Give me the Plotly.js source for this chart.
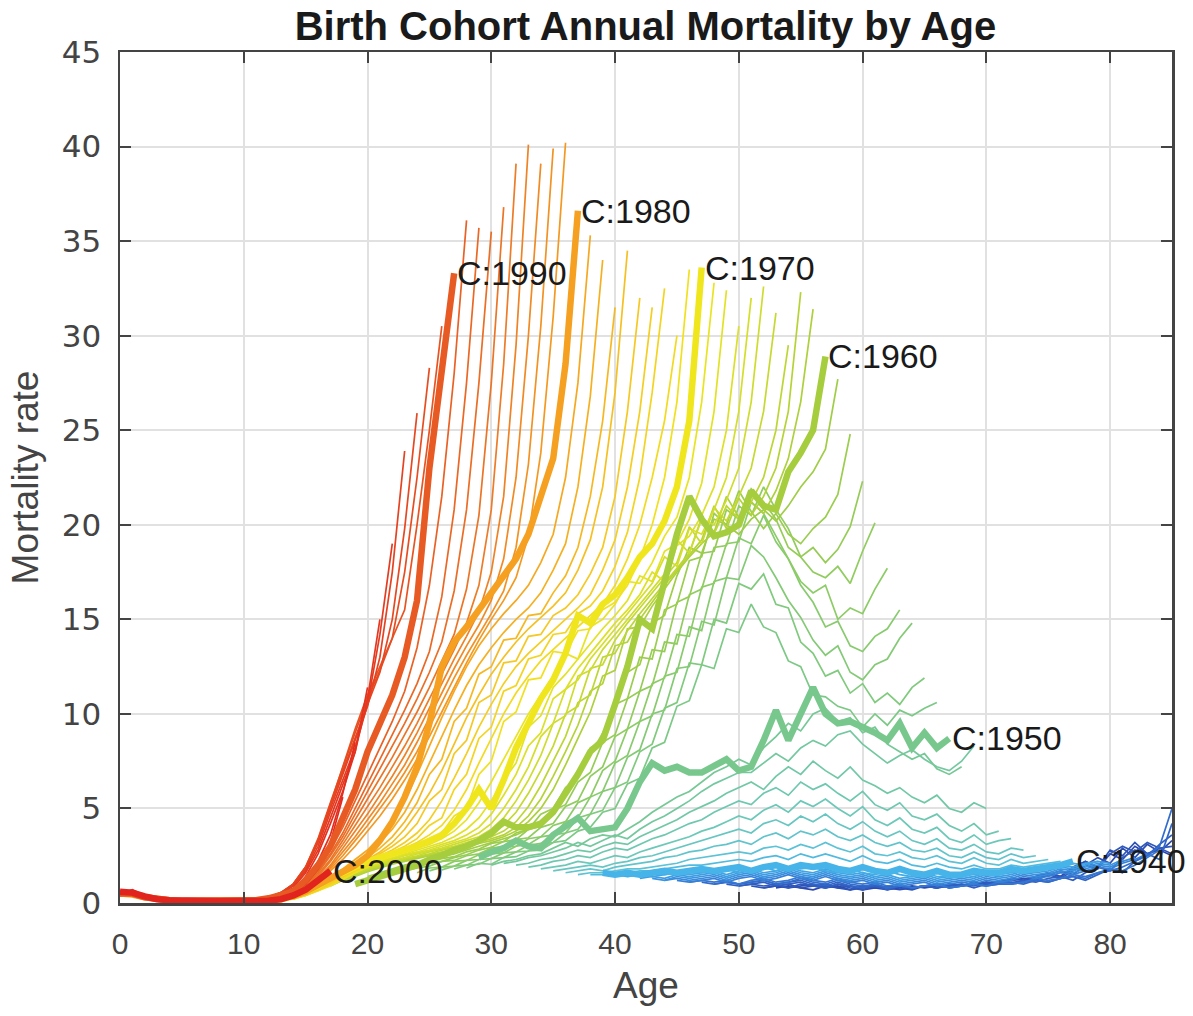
<!DOCTYPE html>
<html><head><meta charset="utf-8">
<script src="https://cdn.plot.ly/plotly-3.0.1.min.js"></script>
<style>html,body{margin:0;padding:0;background:#fff}#chart{width:1193px;height:1016px}</style>
</head><body><div id="chart"></div>
<script>
// ---- data: mortality per cohort, values listed by age; last value = age in 2017 (capped at 85)
const lastDataYear = 2017;
const maxAge = 85;
const labeledCohorts = [1940, 1950, 1960, 1970, 1980, 1990, 2000];
const xTickValues = [0, 10, 20, 30, 40, 50, 60, 70, 80];
const yTickValues = [0, 5, 10, 15, 20, 25, 30, 35, 40, 45];

const c1926 = [0.8,0.9,0.8,0.7,0.9,0.8,0.9,0.7,0.8,0.7,0.8,0.9,0.8,0.9,1.0,0.9,1.1,1.0,1.1,1.3,1.2,1.4,1.6,1.4,1.9,2.2,1.9,2.6,2.3,3.0,2.6,2.8,2.5];
const c1927 = [0.8,0.9,0.8,0.9,1.0,0.8,0.9,0.7,0.8,0.9,0.8,0.7,0.8,0.9,0.8,1.0,0.9,1.0,1.1,1.0,1.2,1.3,1.2,1.5,1.7,1.5,2.0,2.4,2.1,2.9,2.4,3.1,2.7,3.3];
const c1928 = [0.9,0.8,0.9,1.0,0.8,0.9,1.0,0.8,0.7,0.9,0.8,0.9,0.8,0.7,0.9,0.8,1.0,0.9,1.1,1.0,1.1,1.3,1.2,1.4,1.6,1.4,1.8,2.2,1.9,2.8,2.5,3.2,2.6,2.9,2.6];
const c1929 = [0.9,1.0,0.9,1.0,0.8,1.0,0.9,0.8,1.0,0.8,0.7,0.9,0.8,0.9,0.8,0.9,0.8,0.9,1.0,0.9,1.1,1.0,1.2,1.1,1.3,1.5,1.3,1.7,2.0,1.8,2.6,3.0,2.7,3.2,2.9,3.0];
const c1930 = [1.0,0.9,1.0,1.1,0.9,1.0,1.1,0.9,0.8,1.0,0.9,0.8,0.9,0.7,0.9,0.8,0.9,0.8,0.9,1.0,0.8,1.0,1.1,1.0,1.2,1.1,1.3,1.4,1.2,1.6,1.9,1.7,2.4,2.8,2.5,3.1,3.6];
const c1931 = [1.0,1.1,1.0,1.1,1.2,1.0,1.1,1.2,1.0,0.9,1.1,0.9,0.8,1.0,0.8,0.9,0.8,0.9,1.0,0.8,0.9,1.0,0.9,1.0,1.1,1.0,1.2,1.1,1.3,1.4,1.2,1.5,1.8,1.6,2.2,2.6,2.3,4.2];
const c1932 = [1.1,1.0,1.1,1.0,1.1,1.2,1.0,1.1,1.3,1.1,1.0,1.2,1.0,0.9,1.0,0.8,0.9,0.8,0.9,1.0,0.8,0.9,1.0,0.9,1.0,1.0,1.1,1.2,1.1,1.3,1.4,1.3,1.6,1.7,1.9,2.2,2.5,3.0,5.0];
const c1933 = [1.1,1.2,1.1,1.2,1.0,1.2,1.3,1.1,1.2,1.4,1.2,1.1,1.3,1.1,1.0,1.1,0.9,1.0,0.8,0.9,1.0,0.8,0.9,1.0,0.9,1.1,1.0,1.1,1.3,1.2,1.3,1.5,1.4,1.6,1.8,1.7,2.0,2.4,2.8];
const c1934 = [1.2,1.1,1.2,1.3,1.1,1.3,1.4,1.2,1.3,1.5,1.3,1.2,1.4,1.2,1.1,1.2,1.0,1.1,0.9,1.0,1.1,0.9,1.0,1.1,1.0,1.2,1.1,1.2,1.4,1.3,1.4,1.6,1.5,1.7,1.9,1.8,2.1,2.3,2.6];
const c1935 = [1.2,1.3,1.2,1.3,1.4,1.2,1.4,1.5,1.3,1.4,1.6,1.4,1.3,1.5,1.3,1.2,1.3,1.1,1.2,1.0,1.1,1.2,1.0,1.1,1.2,1.1,1.3,1.2,1.3,1.5,1.4,1.5,1.7,1.6,1.8,2.0,1.9,2.2,2.4];
const c1936 = [1.3,1.2,1.4,1.3,1.4,1.5,1.3,1.5,1.6,1.4,1.5,1.7,1.5,1.4,1.6,1.4,1.3,1.4,1.2,1.3,1.1,1.2,1.3,1.1,1.2,1.3,1.2,1.4,1.3,1.4,1.6,1.5,1.6,1.8,1.7,1.9,2.1,2.0,2.3];
const c1937 = [1.3,1.4,1.3,1.5,1.4,1.5,1.6,1.4,1.6,1.7,1.5,1.6,1.8,1.6,1.5,1.7,1.5,1.4,1.5,1.3,1.4,1.2,1.3,1.4,1.2,1.3,1.4,1.3,1.5,1.4,1.5,1.7,1.6,1.7,1.9,1.8,2.0,2.2,2.1];
const c1938 = [1.4,1.5,1.4,1.5,1.6,1.5,1.6,1.7,1.5,1.7,1.8,1.6,1.7,1.9,1.7,1.6,1.8,1.6,1.5,1.6,1.4,1.5,1.3,1.4,1.5,1.3,1.4,1.5,1.4,1.6,1.5,1.6,1.8,1.7,1.8,2.0,1.9,2.1,2.2];
const c1939 = [1.5,1.4,1.5,1.6,1.5,1.6,1.7,1.6,1.7,1.8,1.6,1.8,1.9,1.7,1.9,1.8,1.9,1.7,1.6,1.8,1.6,1.5,1.7,1.5,1.4,1.6,1.4,1.4,1.6,1.5,1.5,1.7,1.6,1.7,1.8,1.9,2.0,2.1,2.0];
const c1940 = [1.6,1.5,1.6,1.5,1.6,1.7,1.6,1.7,1.8,1.7,1.8,1.9,1.7,1.9,2.0,1.8,2.0,1.9,2.0,1.8,1.7,1.9,1.7,1.6,1.8,1.6,1.5,1.7,1.5,1.5,1.7,1.6,1.6,1.8,1.7,1.8,1.9,2.0,2.2];
const c1941 = [1.5,1.5,1.6,1.6,1.7,1.7,1.8,1.9,2.0,2.0,2.1,2.2,2.3,2.2,2.4,2.5,2.3,2.6,2.4,2.6,2.4,2.2,2.5,2.2,2.1,2.3,2.0,1.9,2.1,1.9,1.8,2.0,1.8,1.8,2.0,1.9,2.0,2.1,2.2];
const c1942 = [1.5,1.6,1.6,1.7,1.8,1.8,1.9,2.0,2.1,2.3,2.4,2.5,2.6,2.7,2.6,2.9,3.0,2.8,3.1,2.9,3.2,2.9,2.7,3.0,2.6,2.5,2.7,2.4,2.3,2.5,2.2,2.1,2.4,2.1,2.0,2.3,2.1,2.2,2.3];
const c1943 = [1.6,1.7,1.8,1.7,1.9,2.0,2.1,2.2,2.4,2.5,2.7,2.8,3.0,3.1,3.3,3.1,3.5,3.7,3.4,3.8,3.6,3.9,3.5,3.3,3.6,3.2,3.0,3.2,2.8,2.7,2.9,2.5,2.4,2.7,2.4,2.3,2.6,2.4,2.5];
const c1944 = [1.7,1.8,1.9,2.0,1.9,2.1,2.2,2.4,2.5,2.7,2.9,3.1,3.3,3.5,3.7,3.9,3.7,4.2,4.4,4.1,4.6,4.3,4.7,4.2,3.9,4.3,3.8,3.5,3.8,3.3,3.1,3.4,2.9,2.8,3.1,2.7,2.6,2.9,2.8];
const c1945 = [1.8,1.9,2.0,2.2,2.1,2.3,2.5,2.4,2.7,2.9,3.1,3.3,3.5,3.8,4.0,4.3,4.6,4.4,4.9,5.2,4.8,5.4,5.1,5.5,5.0,4.6,5.1,4.4,4.1,4.5,3.9,3.7,4.0,3.4,3.2,3.6,3.1,3.3,3.4];
const c1946 = [1.9,2.0,2.2,2.3,2.5,2.4,2.7,2.9,2.8,3.1,3.4,3.6,3.9,4.2,4.4,4.8,5.1,5.4,5.2,5.8,6.1,5.7,6.4,6.0,6.3,5.8,5.4,5.9,5.2,4.9,5.3,4.6,4.4,4.7,4.1,3.8,4.2,3.6,3.8];
const c1947 = [2.0,2.1,2.3,2.4,2.6,2.8,2.7,3.0,3.2,3.1,3.5,3.8,4.1,4.4,4.8,5.1,5.4,5.8,6.1,6.4,6.0,6.7,7.2,6.8,7.5,7.0,6.6,7.2,6.5,6.2,5.8,6.1,5.6,5.3,5.7,5.0,4.8,5.3,5.0];
const c1948 = [2.1,2.2,2.4,2.5,2.7,2.9,3.2,3.0,3.3,3.6,3.4,3.9,4.3,4.6,5.0,5.4,5.9,6.3,6.6,6.9,6.9,7.4,7.9,7.5,8.2,8.6,8.3,8.9,9.1,8.4,7.9,7.4,7.8,8.1,7.6,7.2,7.0,7.5,8.3];
const c1949 = [2.0,2.2,2.3,2.5,2.6,2.9,3.2,3.0,3.4,3.6,3.5,3.9,4.3,4.8,5.2,5.6,5.9,6.4,6.9,7.2,7.6,7.3,8.2,8.8,9.5,9.1,10.0,10.3,9.6,9.8,9.0,9.3,8.4,8.0,7.6,7.9,7.1,6.8,7.2];
const c1950 = [2.4,2.7,2.9,3.3,3.0,2.9,3.6,4.0,4.5,3.8,3.9,4.0,5.0,6.4,7.4,7.0,7.2,6.9,6.9,7.3,7.6,7.0,7.2,8.6,10.2,8.6,10.0,11.4,10.0,9.5,9.6,9.3,9.0,8.6,9.5,8.2,9.0,8.2,8.7];
const c1951 = [1.85,2.1,2.05,2.4,2.45,2.75,2.8,3.2,3.3,3.8,4.0,4.8,5.0,6.3,6.6,8.2,8.5,10.4,10.7,12.6,12.4,14.5,14.3,15.8,14.6,14.3,12.8,12.5,11.0,10.9,10.4,10.2,9.3,10.0,9.4,10.2,9.9,10.3,10.6];
const c1952 = [1.8,2.0,2.05,2.35,2.4,2.7,2.75,3.1,3.2,3.7,3.9,4.7,4.9,6.1,6.4,8.0,8.4,10.3,10.6,12.7,12.6,15.0,14.8,16.9,16.6,17.4,15.8,15.6,13.8,13.2,12.0,12.3,11.1,11.6,10.6,11.1,10.5,11.4,11.9];
const c1953 = [1.75,1.95,2.0,2.3,2.35,2.65,2.7,3.05,3.15,3.6,3.7,4.5,4.7,5.9,6.1,7.7,8.1,10.0,10.2,12.4,12.5,14.9,14.7,17.2,17.1,18.9,18.3,17.2,16.0,15.1,13.9,13.1,13.6,12.2,11.8,12.6,12.9,14.0,14.8];
const c1954 = [1.7,1.9,1.95,2.25,2.3,2.6,2.65,3.0,3.1,3.5,3.6,4.3,4.5,5.6,5.9,7.4,7.8,9.6,9.9,12.0,12.2,14.6,14.4,17.0,17.2,19.3,19.0,20.5,19.1,18.2,16.8,15.9,14.6,14.9,13.6,13.3,14.1,14.5,15.5];
const c1955 = [1.6,1.85,1.9,2.2,2.25,2.55,2.6,2.95,3.0,3.4,3.5,4.1,4.3,5.3,5.6,7.0,7.5,9.2,9.6,11.6,11.9,14.2,14.1,16.7,16.9,19.0,19.1,21.2,20.6,19.4,18.2,17.0,16.4,16.8,15.0,15.6,15.3,16.6,17.7];
const c1956 = [1.7,1.85,1.95,2.2,2.25,2.5,2.6,2.9,3.0,3.35,3.45,4.0,4.2,5.1,5.4,6.7,7.2,8.8,9.2,11.2,11.5,13.8,13.7,16.3,16.6,18.8,18.9,21.0,20.5,22.0,20.8,19.8,18.3,17.5,17.2,17.8,16.9,18.6,20.1];
const c1957 = [1.6,1.8,1.9,2.1,2.2,2.4,2.55,2.8,2.95,3.25,3.35,3.9,4.05,4.9,5.2,6.4,6.9,8.5,8.9,10.8,11.2,13.4,13.3,15.9,16.2,18.5,18.6,20.8,20.3,21.9,21.2,20.3,18.8,18.3,18.8,18.0,18.7,19.9,22.3];
const c1958 = [1.5,1.7,1.85,2.05,2.15,2.35,2.45,2.7,2.85,3.15,3.25,3.7,3.9,4.7,5.0,6.1,6.6,8.2,8.6,10.5,10.8,13.0,12.9,15.5,15.8,18.1,18.3,20.6,20.0,21.8,20.7,19.8,20.6,19.5,19.0,19.8,20.4,21.6,24.8];
const c1959 = [1.4,1.6,1.8,2.0,2.15,2.3,2.45,2.6,2.8,3.0,3.2,3.4,3.6,3.9,4.3,4.9,5.7,6.7,7.8,9.0,10.3,12.2,12.6,14.8,15.2,17.3,18.8,18.5,20.3,20.0,19.5,20.3,20.8,20.2,21.0,22.0,22.8,24.0,27.7];
const c1960 = [1.0,1.2,1.4,1.6,1.8,2.0,2.3,2.5,2.8,3.0,3.3,3.7,4.3,4.0,4.0,4.2,4.8,5.8,6.8,8.0,8.6,10.5,12.5,15.0,14.5,17.0,19.5,21.5,20.3,19.4,19.6,20.0,21.8,21.0,20.8,22.8,23.8,25.0,28.9];
const c1961 = [1.1,1.4,1.65,1.85,2.05,2.2,2.35,2.5,2.65,2.8,3.0,3.15,3.3,3.5,3.8,4.3,5.0,6.0,7.3,8.7,10.1,12.0,12.3,14.5,14.6,15.7,16.6,17.5,18.3,19.0,19.6,21.5,20.4,21.2,20.6,21.8,23.5,26.5,31.4];
const c1962 = [0.9,1.2,1.45,1.7,1.9,2.1,2.25,2.4,2.55,2.7,2.9,3.05,3.2,3.4,3.6,4.0,4.6,5.5,6.7,8.0,9.4,11.2,11.6,13.6,13.8,15.0,15.9,16.8,17.6,18.4,19.2,21.0,19.8,21.4,20.5,21.5,23.0,26.0,32.3];
const c1963 = [0.7,0.95,1.2,1.5,1.75,1.95,2.15,2.3,2.45,2.6,2.8,2.95,3.1,3.3,3.5,3.8,4.3,5.1,6.2,7.5,8.8,10.6,11.0,13.0,13.2,14.4,15.3,16.1,16.9,17.7,18.5,20.4,19.5,21.0,20.3,21.2,22.5,25.0,29.5];
const c1964 = [0.5,0.7,0.95,1.25,1.55,1.8,2.0,2.2,2.35,2.5,2.7,2.85,3.0,3.2,3.4,3.7,4.1,4.8,5.8,7.0,8.3,10.0,10.4,12.4,12.6,13.9,14.8,15.6,16.4,17.2,18.0,19.9,19.0,20.9,20.2,21.5,23.0,26.0,31.2];
const c1965 = [0.3,0.5,0.7,1.0,1.3,1.6,1.85,2.05,2.25,2.4,2.6,2.75,2.9,3.1,3.3,3.5,3.9,4.5,5.4,6.5,7.8,9.5,9.9,12.0,12.3,13.4,14.2,15.0,15.8,16.6,17.4,19.2,18.5,20.3,20.0,21.3,23.0,26.5,32.6];
const c1966 = [0.2,0.3,0.5,0.75,1.0,1.35,1.65,1.9,2.1,2.3,2.5,2.65,2.8,3.0,3.2,3.4,3.7,4.2,5.0,6.0,7.2,8.8,9.5,11.3,11.8,12.9,13.7,14.5,15.3,16.1,16.9,18.3,17.8,19.8,19.5,20.8,22.5,26.0,32.0];
const c1967 = [0.12,0.2,0.3,0.5,0.75,1.05,1.4,1.7,1.95,2.15,2.35,2.55,2.7,2.9,3.1,3.3,3.6,4.0,4.7,5.7,6.8,8.3,9.0,10.8,11.3,12.4,13.2,14.0,14.8,15.5,16.3,17.5,17.0,18.9,19.4,20.5,22.0,25.0,30.5];
const c1968 = [0.1,0.15,0.2,0.3,0.5,0.8,1.1,1.45,1.75,2.0,2.2,2.4,2.6,2.8,3.0,3.2,3.5,3.9,4.5,5.4,6.5,7.4,9.3,9.9,11.4,12.1,12.9,13.7,14.5,15.2,16.0,17.3,17.0,18.6,19.0,20.3,22.2,26.0,32.4];
const c1969 = [0.1,0.1,0.15,0.2,0.3,0.55,0.85,1.2,1.5,1.8,2.1,2.3,2.5,2.7,2.9,3.1,3.4,3.8,4.4,5.3,6.4,7.6,8.8,10.0,11.0,12.0,13.2,12.9,14.6,15.0,15.8,17.0,16.9,18.0,19.4,20.4,22.5,26.5,32.8];
const c1970 = [0.1,0.1,0.1,0.15,0.2,0.35,0.6,0.9,1.3,1.6,1.9,2.2,2.4,2.6,2.8,3.0,3.3,3.6,4.2,5.0,6.0,5.0,6.5,8.2,9.5,10.8,11.8,13.2,15.2,14.8,15.8,16.3,17.2,18.3,19.0,20.2,22.0,25.5,33.6];
const c1971 = [0.1,0.1,0.12,0.15,0.2,0.25,0.2,0.4,0.65,0.9,1.25,1.6,1.9,2.2,2.5,2.8,3.0,3.3,3.7,4.6,5.0,6.8,7.5,9.6,10.1,11.8,11.9,13.3,13.2,14.4,14.5,15.5,15.9,16.8,18.2,20.0,22.5,26.5,33.5];
const c1972 = [0.1,0.1,0.1,0.12,0.15,0.2,0.25,0.2,0.4,0.65,0.95,1.3,1.65,1.95,2.3,2.6,2.9,3.2,3.6,4.1,4.9,6.0,7.4,8.7,10.0,11.1,12.0,12.8,13.4,14.0,14.6,15.2,15.8,16.8,18.2,20.0,22.5,25.5,30.0];
const c1973 = [0.1,0.1,0.1,0.1,0.12,0.15,0.2,0.25,0.25,0.4,0.7,1.0,1.35,1.7,2.0,2.4,2.7,3.0,3.4,4.1,4.5,6.0,6.8,8.7,9.3,11.2,11.5,12.9,13.1,14.2,14.3,15.3,15.7,16.5,17.8,19.6,22.5,27.0,32.5];
const c1974 = [0.1,0.1,0.1,0.1,0.1,0.12,0.15,0.2,0.25,0.25,0.45,0.7,1.05,1.4,1.75,2.1,2.5,2.8,3.2,3.7,4.4,5.4,6.6,7.9,9.3,10.5,11.6,12.5,13.2,13.8,14.4,15.0,15.6,16.3,17.6,19.2,22.0,26.0,31.5];
const c1975 = [0.15,0.1,0.1,0.1,0.1,0.1,0.12,0.15,0.2,0.25,0.25,0.45,0.75,1.1,1.45,1.8,2.2,2.6,3.0,3.5,4.2,5.4,6.0,7.9,8.6,10.6,11.0,12.7,12.8,14.1,14.2,15.2,15.6,16.3,17.4,18.8,21.5,26.0,32.0];
const c1976 = [0.2,0.15,0.1,0.1,0.1,0.1,0.1,0.12,0.15,0.2,0.3,0.3,0.5,0.8,1.15,1.5,1.9,2.3,2.7,3.2,3.9,4.8,5.8,7.0,8.4,9.8,11.0,12.1,13.0,13.8,14.5,15.1,15.7,16.4,17.6,19.2,22.0,27.0,34.5];
const c1977 = [0.3,0.2,0.15,0.1,0.1,0.1,0.1,0.1,0.12,0.15,0.2,0.3,0.3,0.5,0.85,1.2,1.6,2.0,2.4,2.9,3.5,4.3,5.3,6.8,7.6,9.6,10.3,12.1,12.5,13.9,14.0,15.2,15.3,16.4,17.3,18.8,21.5,25.5,31.5];
const c1978 = [0.4,0.3,0.2,0.15,0.1,0.1,0.1,0.1,0.1,0.12,0.15,0.2,0.3,0.3,0.55,0.9,1.3,1.7,2.1,2.6,3.2,3.9,4.8,6.0,7.4,8.8,10.2,11.5,12.6,13.5,14.3,15.0,15.6,16.4,17.6,19.0,22.0,26.8,34.0];
const c1979 = [0.5,0.4,0.3,0.2,0.15,0.1,0.1,0.1,0.1,0.1,0.12,0.15,0.2,0.3,0.35,0.6,0.95,1.4,1.8,2.3,2.8,3.5,4.3,5.4,6.8,8.3,9.8,11.2,12.5,13.6,14.5,15.3,16.0,16.8,18.0,19.5,22.5,27.5,35.3];
const c1980 = [0.5,0.45,0.3,0.2,0.15,0.1,0.1,0.1,0.1,0.1,0.12,0.15,0.2,0.3,0.35,0.6,0.95,1.3,1.6,2.0,2.5,3.3,4.3,5.6,7.2,9.5,12.5,13.8,14.6,15.5,16.5,17.3,18.2,19.5,21.5,23.5,28.5,36.6];
const c1981 = [0.5,0.45,0.3,0.2,0.15,0.1,0.1,0.1,0.1,0.1,0.12,0.15,0.2,0.3,0.35,0.65,1.1,1.7,2.3,3.0,3.8,4.6,5.5,6.5,7.6,8.8,10.1,11.4,12.7,13.9,15.0,16.0,17.2,19.4,23.8,31.0,40.2];
const c1982 = [0.5,0.45,0.3,0.2,0.15,0.1,0.1,0.1,0.1,0.1,0.12,0.15,0.2,0.3,0.4,0.7,1.2,1.8,2.5,3.3,4.1,5.0,5.9,6.9,8.0,9.3,10.6,11.9,13.1,14.2,15.3,16.5,18.8,23.2,30.5,39.9];
const c1983 = [0.5,0.45,0.3,0.2,0.15,0.1,0.1,0.1,0.1,0.1,0.12,0.15,0.2,0.3,0.4,0.75,1.25,1.9,2.7,3.5,4.4,5.3,6.3,7.3,8.5,9.8,11.1,12.4,13.6,14.7,16.0,18.2,22.5,30.0,39.1];
const c1984 = [0.5,0.4,0.3,0.2,0.15,0.1,0.1,0.1,0.1,0.1,0.12,0.15,0.2,0.3,0.45,0.8,1.3,2.0,2.9,3.8,4.7,5.7,6.7,7.8,9.0,10.3,11.6,12.9,14.1,15.4,17.5,21.5,29.5,40.1];
const c1985 = [0.5,0.4,0.3,0.2,0.15,0.1,0.1,0.1,0.1,0.1,0.12,0.15,0.2,0.3,0.45,0.85,1.4,2.2,3.1,4.1,5.1,6.1,7.2,8.3,9.5,10.8,12.1,13.4,14.8,16.8,20.8,28.5,39.1];
const c1986 = [0.5,0.4,0.3,0.2,0.15,0.1,0.1,0.1,0.1,0.1,0.12,0.15,0.2,0.35,0.5,0.9,1.5,2.3,3.3,4.4,5.5,6.6,7.7,8.9,10.1,11.4,12.8,14.2,16.6,20.5,27.5,36.8];
const c1987 = [0.5,0.4,0.3,0.2,0.15,0.1,0.1,0.1,0.1,0.1,0.12,0.15,0.25,0.35,0.5,0.95,1.6,2.5,3.5,4.7,5.9,7.1,8.3,9.5,10.8,12.2,13.8,16.5,20.8,27.5,35.5];
const c1988 = [0.5,0.45,0.3,0.2,0.15,0.1,0.1,0.1,0.1,0.1,0.12,0.15,0.25,0.4,0.55,1.0,1.7,2.6,3.7,5.0,6.3,7.6,8.9,10.2,11.6,13.3,16.2,20.8,27.5,35.7];
const c1989 = [0.5,0.45,0.3,0.2,0.15,0.1,0.1,0.1,0.1,0.1,0.12,0.15,0.25,0.4,0.55,1.0,1.8,2.8,4.0,5.4,6.8,8.2,9.6,11.2,13.5,16.8,21.5,28.0,36.1];
const c1990 = [0.5,0.5,0.3,0.2,0.15,0.1,0.1,0.1,0.1,0.1,0.12,0.15,0.25,0.4,0.6,1.2,2.0,3.0,4.5,6.0,8.0,9.5,11.0,13.0,16.0,23.0,28.5,33.3];
const c1991 = [0.4,0.45,0.3,0.2,0.15,0.1,0.1,0.1,0.1,0.12,0.12,0.15,0.3,0.55,1.0,1.9,3.3,5.2,7.2,9.2,11.0,12.5,14.0,15.5,20.0,25.0,30.5];
const c1992 = [0.4,0.45,0.3,0.2,0.15,0.1,0.1,0.1,0.1,0.12,0.12,0.15,0.3,0.55,1.0,1.9,3.4,5.3,7.2,9.0,10.8,12.3,14.0,17.5,22.5,28.3];
const c1993 = [0.4,0.45,0.3,0.2,0.15,0.1,0.1,0.1,0.1,0.1,0.12,0.15,0.3,0.55,1.0,1.9,3.3,5.2,7.0,8.8,10.5,12.2,15.0,19.8,25.9];
const c1994 = [0.4,0.5,0.3,0.2,0.15,0.1,0.1,0.1,0.1,0.1,0.12,0.15,0.3,0.5,1.0,1.8,3.2,5.0,6.8,8.6,10.4,13.0,17.5,23.9];
const c1995 = [0.45,0.5,0.3,0.2,0.15,0.1,0.1,0.1,0.1,0.1,0.12,0.15,0.25,0.45,0.9,1.7,3.0,4.8,6.5,8.2,10.5,14.2,19.0];
const c1996 = [0.45,0.5,0.3,0.2,0.15,0.1,0.1,0.1,0.1,0.1,0.12,0.15,0.25,0.4,0.8,1.6,2.8,4.5,6.2,8.0,10.8,15.0];
const c1997 = [0.5,0.55,0.3,0.2,0.15,0.1,0.1,0.1,0.1,0.1,0.1,0.15,0.2,0.35,0.7,1.4,2.6,4.2,5.9,8.0,11.4];
const c1998 = [0.5,0.6,0.35,0.2,0.15,0.1,0.1,0.1,0.1,0.1,0.1,0.12,0.2,0.3,0.6,1.2,2.2,3.6,5.8,8.5];
const c1999 = [0.5,0.7,0.4,0.25,0.15,0.12,0.1,0.1,0.1,0.1,0.1,0.12,0.15,0.25,0.5,1.0,1.8,3.2,5.6];
const c2000 = [0.6,0.55,0.35,0.2,0.15,0.12,0.1,0.1,0.1,0.1,0.1,0.1,0.12,0.2,0.4,0.7,1.15,1.7];

const cohortYears = [1926,1927,1928,1929,1930,1931,1932,1933,1934,1935,1936,1937,1938,1939,1940,
  1941,1942,1943,1944,1945,1946,1947,1948,1949,1950,1951,1952,1953,1954,1955,1956,1957,1958,1959,1960,
  1961,1962,1963,1964,1965,1966,1967,1968,1969,1970,1971,1972,1973,1974,1975,1976,1977,1978,1979,1980,
  1981,1982,1983,1984,1985,1986,1987,1988,1989,1990,1991,1992,1993,1994,1995,1996,1997,1998,1999,2000];
const cohortSeries = [c1926,c1927,c1928,c1929,c1930,c1931,c1932,c1933,c1934,c1935,c1936,c1937,c1938,c1939,c1940,
  c1941,c1942,c1943,c1944,c1945,c1946,c1947,c1948,c1949,c1950,c1951,c1952,c1953,c1954,c1955,c1956,c1957,c1958,c1959,c1960,
  c1961,c1962,c1963,c1964,c1965,c1966,c1967,c1968,c1969,c1970,c1971,c1972,c1973,c1974,c1975,c1976,c1977,c1978,c1979,c1980,
  c1981,c1982,c1983,c1984,c1985,c1986,c1987,c1988,c1989,c1990,c1991,c1992,c1993,c1994,c1995,c1996,c1997,c1998,c1999,c2000];

// ---- styling: colour ramp by cohort year
const colorStops = [
  [1926,[44,70,172]],[1932,[50,108,204]],[1936,[58,148,224]],[1940,[70,180,232]],[1942,[92,194,214]],
  [1945,[108,200,184]],[1950,[120,200,142]],[1955,[140,204,102]],[1960,[165,205,62]],[1965,[206,220,45]],
  [1970,[240,230,30]],[1975,[245,200,35]],[1980,[245,160,32]],[1985,[236,124,40]],[1990,[232,90,35]],
  [1995,[228,60,32]],[2000,[226,36,30]]
];
function cohortColor(yr){
  for(let i=0;i<colorStops.length-1;i++){
    const [y0,a]=colorStops[i],[y1,b]=colorStops[i+1];
    if(yr>=y0 && yr<=y1){
      const t=(yr-y0)/(y1-y0);
      return 'rgb('+a.map((v,k)=>Math.round(v+(b[k]-v)*t)).join(',')+')';
    }
  }
  return 'rgb(226,36,30)';
}

function agesFor(yr, n){
  const endAge = Math.min(maxAge, lastDataYear - yr);
  const xs = [];
  for(let i=0;i<n;i++) xs.push(endAge-(n-1-i));
  return xs;
}

const thin = [], thick = [], annotations = [];
cohortYears.forEach((yr, idx) => {
  const ys = cohortSeries[idx];
  const xs = agesFor(yr, ys.length);
  const isLab = labeledCohorts.includes(yr);
  const tr = {
    type:'scatter', mode:'lines', x: xs, y: ys,
    line:{color: cohortColor(yr), width: isLab ? 6.5 : 1.7, shape:'linear'},
    hoverinfo:'skip', showlegend:false
  };
  (isLab ? thick : thin).push(tr);
  if(isLab){
    annotations.push({
      x: xs[xs.length-1], y: ys[ys.length-1], xref:'x', yref:'y',
      text:'C:'+yr, showarrow:false, xanchor:'left', yanchor:'middle', xshift:1,
      font:{family:'Liberation Sans, Arial, sans-serif', size:34, color:'#1a1a1a'}
    });
  }
});

const layout = {
  width:1193, height:1016,
  margin:{l:120, r:21, t:52, b:113},
  paper_bgcolor:'#ffffff', plot_bgcolor:'#ffffff',
  title:{text:'<b>Birth Cohort Annual Mortality by Age</b>', x:0.541, xanchor:'center', y:0.974, yanchor:'middle',
    font:{family:'Liberation Sans, Arial, sans-serif', size:40, color:'#1a1a1a'}},
  xaxis:{range:[0,85], tickvals:xTickValues, ticktext:xTickValues.map(String),
    showgrid:true, gridcolor:'#e1e1e1', gridwidth:2, zeroline:false,
    showline:true, linecolor:'#444', linewidth:2.5, mirror:'ticks',
    ticks:'inside', ticklen:11, tickwidth:2, tickcolor:'#444', ticklabelstandoff:12,
    tickfont:{family:'Liberation Sans Narrow, Arial Narrow, Liberation Sans, sans-serif', size:30, color:'#444'},
    title:{text:'Age', standoff:14, font:{family:'Liberation Sans, Arial, sans-serif', size:37, color:'#444'}}},
  yaxis:{range:[0,45], tickvals:yTickValues, ticktext:yTickValues.map(String),
    showgrid:true, gridcolor:'#e1e1e1', gridwidth:2, zeroline:false,
    showline:true, linecolor:'#444', linewidth:2.5, mirror:'ticks',
    ticks:'inside', ticklen:11, tickwidth:2, tickcolor:'#444', ticklabelstandoff:10,
    tickfont:{family:'DejaVu Sans, sans-serif', size:31, color:'#444'},
    title:{text:'Mortality rate', standoff:12, font:{family:'Liberation Sans, Arial, sans-serif', size:37, color:'#444'}}},
  annotations: annotations,
  hovermode:false
};

Plotly.newPlot('chart', thin.concat(thick), layout, {displayModeBar:false, staticPlot:true});
</script>
</body></html>
